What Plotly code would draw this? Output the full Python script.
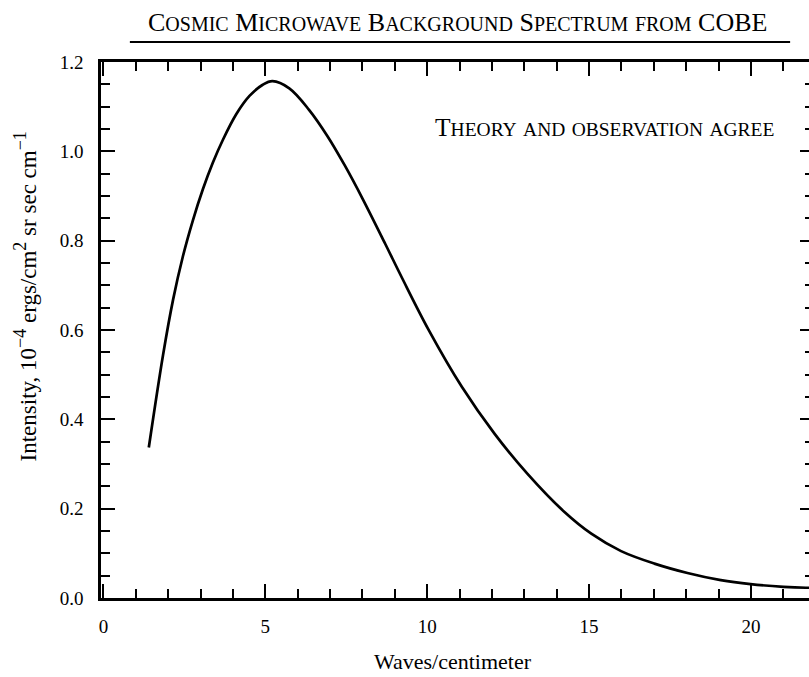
import plotly.graph_objects as go

# Data
waves_per_cm = [1.40, 1.84, 2.15, 2.45, 2.76, 3.07, 3.38, 3.69, 4.10, 4.51, 4.92, 5.22,
                5.74, 6.35, 6.92, 7.45, 7.99, 8.71, 9.22, 10.04, 11.07, 12.09, 13.10, 14.25,
                15.07, 15.99, 17.02, 18.04, 19.07, 19.99, 21.01, 21.70, 21.95]
intensity = [0.337, 0.544, 0.668, 0.764, 0.845, 0.915, 0.975, 1.026, 1.083, 1.124, 1.149, 1.157,
             1.141, 1.093, 1.034, 0.969, 0.896, 0.792, 0.717, 0.601, 0.473, 0.367, 0.278, 0.192,
             0.144, 0.105, 0.077, 0.056, 0.040, 0.031, 0.025, 0.023, 0.023]

x_tickvals = [0, 5, 10, 15, 20]
y_tickvals = [0.0, 0.2, 0.4, 0.6, 0.8, 1.0, 1.2]
y_ticktext = ["0.0", "0.2", "0.4", "0.6", "0.8", "1.0", "1.2"]

FONT = "Liberation Serif, Times New Roman, serif"


def small_caps(text, big, small):
    out = []
    for word in text.split(" "):
        if word == "COBE":
            out.append(f'<span style="font-size:{big}px">{word}</span>')
            continue
        if word.islower():
            out.append(f'<span style="font-size:{small}px">{word.upper()}</span>')
        else:
            s = f'<span style="font-size:{big}px">{word[0]}</span>'
            if word[1:]:
                s += f'<span style="font-size:{small}px">{word[1:].upper()}</span>'
            out.append(s)
    return " ".join(out)


fig = go.Figure()
fig.add_trace(go.Scatter(
    x=waves_per_cm, y=intensity, mode="lines",
    line=dict(color="black", width=2.7, shape="spline", smoothing=1.0),
    showlegend=False, hoverinfo="skip"))

axis_common = dict(
    showgrid=False, zeroline=False, showline=True, linecolor="black", linewidth=2.5,
    mirror="allticks", ticks="inside", ticklen=14, tickwidth=1.5, tickcolor="black",
    tickfont=dict(family=FONT, size=19, color="black"),
)

fig.update_xaxes(
    range=[-0.077, 21.95], tickvals=x_tickvals, ticktext=[str(v) for v in x_tickvals],
    minor=dict(dtick=1, tick0=0, ticks="inside", ticklen=9, tickwidth=1.5, tickcolor="black"),
    ticklabelstandoff=9, **axis_common)
fig.update_yaxes(
    range=[0, 1.2], tickvals=y_tickvals, ticktext=y_ticktext,
    minor=dict(dtick=0.05, tick0=0, ticks="inside", ticklen=9, tickwidth=1.5, tickcolor="black"),
    ticklabelstandoff=11, **axis_common)

title_txt = small_caps("Cosmic Microwave Background Spectrum from COBE", 26, 20)
note_txt = small_caps("Theory and observation agree", 25.5, 19.5)

fig.update_layout(
    width=818, height=677,
    margin=dict(l=101, r=1, t=62, b=79, pad=0),
    paper_bgcolor="white", plot_bgcolor="white",
    font=dict(family=FONT, color="black"),
    annotations=[
        dict(text=title_txt, xref="paper", yref="paper", x=0.5, y=1.0746,
             xanchor="center", yanchor="middle", showarrow=False,
             font=dict(family=FONT, size=26, color="black")),
        dict(text=note_txt, xref="paper", yref="paper", x=0.947, y=0.8787,
             xanchor="right", yanchor="middle", showarrow=False,
             font=dict(family=FONT, size=25.5, color="black")),
        dict(text=("Intensity, 10<sup><span style=\"font-size:18px\">\u22124</span></sup> "
                   "ergs/cm<sup><span style=\"font-size:18px\">2</span></sup> sr sec "
                   "cm<sup><span style=\"font-size:18px\">\u22121</span></sup>"),
             xref="paper", yref="paper", x=-0.106, y=0.5634, textangle=-90,
             xanchor="center", yanchor="middle", showarrow=False,
             font=dict(family=FONT, size=23, color="black")),
        dict(text="Waves/centimeter", xref="paper", yref="paper", x=0.494, y=-0.119,
             xanchor="center", yanchor="middle", showarrow=False,
             font=dict(family=FONT, size=22, color="black")),
    ],
    shapes=[
        dict(type="line", xref="paper", yref="paper", x0=0.0405, x1=0.9665,
             y0=1.0373, y1=1.0373, line=dict(color="black", width=2)),
    ],
)

fig.write_html("out.html",
               post_script="document.documentElement.style.overflow='hidden';"
                           "document.body.style.overflow='hidden';")
